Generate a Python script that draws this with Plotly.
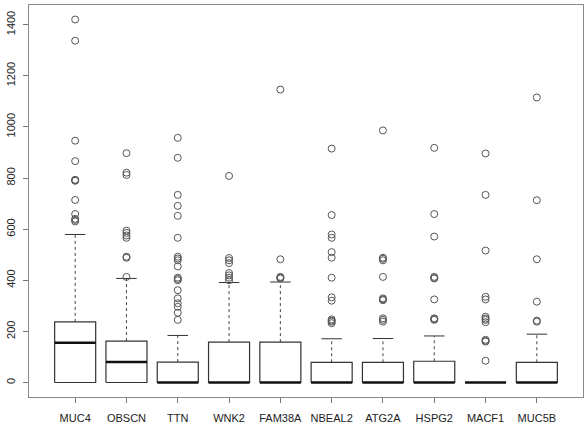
import plotly.graph_objects as go

genes = ["MUC4", "OBSCN", "TTN", "WNK2", "FAM38A", "NBEAL2", "ATG2A", "HSPG2", "MACF1", "MUC5B"]
q1 = [0, 0, 0, 0, 0, 0, 0, 0, 0, 0]
median = [155, 80, 0, 0, 0, 0, 0, 0, 0, 0]
q3 = [237, 162, 80, 158, 158, 79, 79, 83, 0, 79]
upper_whisker = [579, 407, 184, 391, 393, 171, 172, 182, 0, 189]
lower_whisker = [0, 0, 0, 0, 0, 0, 0, 0, 0, 0]

out_MUC4 = [1420, 1337, 946, 866, 793, 791, 789, 714, 659, 640, 636, 630]
out_OBSCN = [897, 821, 812, 594, 585, 575, 566, 492, 488, 413]
out_TTN = [957, 879, 734, 691, 652, 566, 492, 485, 478, 454, 410, 405, 400, 361, 329, 310, 296, 273, 245]
out_WNK2 = [808, 487, 478, 467, 428, 419, 410, 400]
out_FAM38A = [1146, 482, 413, 410, 407]
out_NBEAL2 = [915, 655, 579, 566, 510, 488, 410, 333, 320, 247, 242, 238, 232]
out_ATG2A = [986, 488, 484, 478, 413, 329, 325, 322, 251, 245, 238]
out_HSPG2 = [918, 659, 571, 413, 409, 407, 325, 251, 248, 245]
out_MACF1 = [896, 734, 516, 335, 325, 257, 250, 245, 236, 167, 163, 160, 85]
out_MUC5B = [1115, 713, 482, 316, 242, 238]
outliers = [out_MUC4, out_OBSCN, out_TTN, out_WNK2, out_FAM38A,
            out_NBEAL2, out_ATG2A, out_HSPG2, out_MACF1, out_MUC5B]

HW = 0.4    # half box width
CW = 0.2    # half cap width

bx, by, mx, my, wx, wy, cx, cy, ox, oy = [], [], [], [], [], [], [], [], [], []
for i in range(len(genes)):
    c = i + 1
    bx += [c - HW, c + HW, c + HW, c - HW, c - HW, None]
    by += [q1[i], q1[i], q3[i], q3[i], q1[i], None]
    mx += [c - HW, c + HW, None]
    my += [median[i], median[i], None]
    wx += [c, c, None, c, c, None]
    wy += [q3[i], upper_whisker[i], None, q1[i], lower_whisker[i], None]
    cx += [c - CW, c + CW, None, c - CW, c + CW, None]
    cy += [upper_whisker[i], upper_whisker[i], None, lower_whisker[i], lower_whisker[i], None]
    for v in outliers[i]:
        ox.append(c)
        oy.append(v)

fig = go.Figure()
fig.add_trace(go.Scatter(x=wx, y=wy, mode="lines", line=dict(color="#444", width=1, dash="3px,3px"),
                         hoverinfo="skip"))
fig.add_trace(go.Scatter(x=cx, y=cy, mode="lines", line=dict(color="#333", width=1), hoverinfo="skip"))
fig.add_trace(go.Scatter(x=bx, y=by, mode="lines", line=dict(color="#333", width=1.2), hoverinfo="skip"))
fig.add_trace(go.Scatter(x=mx, y=my, mode="lines", line=dict(color="#111", width=2.5), hoverinfo="skip"))
fig.add_trace(go.Scatter(x=ox, y=oy, mode="markers",
                         marker=dict(symbol="circle-open", size=7, color="#555", line=dict(width=1, color="#555"))))

ymax = max(max(o) for o in outliers)
pad = 0.04 * ymax
fig.update_layout(
    width=584, height=425, margin=dict(l=29, r=1, t=5, b=28),
    paper_bgcolor="white", plot_bgcolor="white", showlegend=False,
    font=dict(family="Liberation Sans, Arial, sans-serif", size=11, color="#222"),
    xaxis=dict(range=[0.1, len(genes) + 0.9], tickvals=list(range(1, len(genes) + 1)), ticktext=genes,
               showgrid=False, zeroline=False, showline=True, mirror=True, linecolor="#888", linewidth=1,
               ticks="outside", ticklen=5, tickcolor="#777", ticklabelstandoff=6),
    yaxis=dict(range=[-pad, ymax + pad], tickvals=[0, 200, 400, 600, 800, 1000, 1200, 1400],
               tickangle=-90, showgrid=False, zeroline=False, showline=True, mirror=True,
               linecolor="#888", linewidth=1, ticks="outside", ticklen=5, tickcolor="#777",
               ticklabelstandoff=4),
)
fig.write_html("out.html")
